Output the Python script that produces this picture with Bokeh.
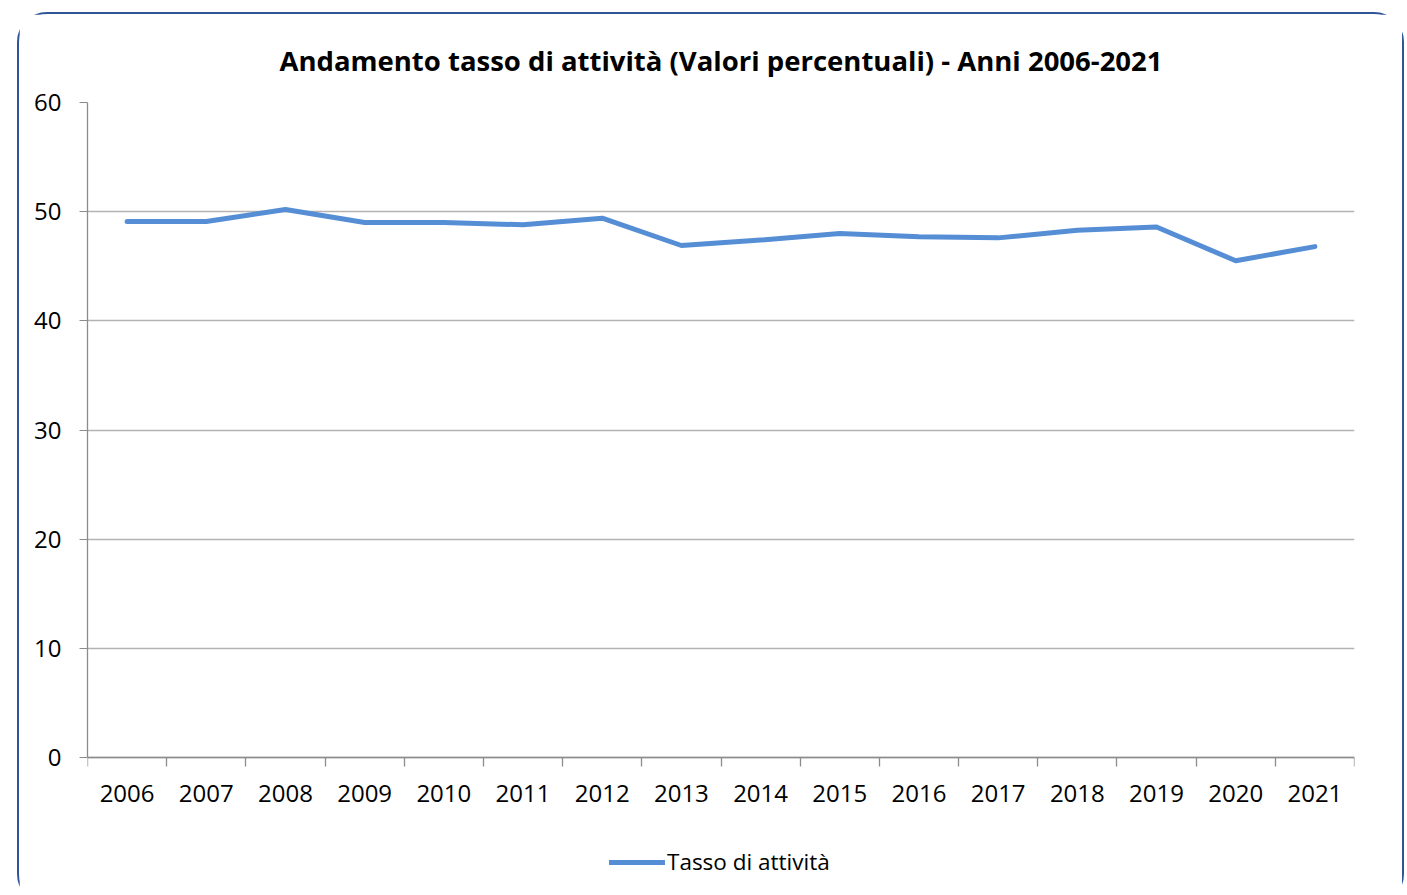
from bokeh.plotting import figure
from bokeh.models import FixedTicker, Range1d, Legend, LegendItem, GlobalInlineStyleSheet
from bokeh.embed import file_html
from bokeh.resources import INLINE

years = list(range(2006, 2022))
tasso = [49.1, 49.1, 50.2, 49.0, 49.0, 48.8, 49.4, 46.9, 47.4, 48.0, 47.7, 47.6, 48.3, 48.6, 45.5, 46.8]
y_ticks = [0, 10, 20, 30, 40, 50, 60]
title_text = "Andamento tasso di attività (Valori percentuali) - Anni 2006-2021"
series_name = "Tasso di attività"

FONT = "Open Sans"

# layout: the value area is 655px tall; the frame continues below it to hold the legend
PLOT_H = 655
FRAME_H = 790
y_lo = -(y_ticks[-1] - y_ticks[0]) * (FRAME_H - PLOT_H) / PLOT_H

p = figure(frame_width=1267, frame_height=FRAME_H, output_backend="svg", toolbar_location=None,
           x_range=Range1d(years[0] - 0.5, years[-1] + 0.5), y_range=Range1d(y_lo, y_ticks[-1]),
           min_border_left=68, min_border_right=48, min_border_top=88, min_border_bottom=10)
p.margin = (12, 0, 0, 17)
p.styles = {"border": "2.5px solid #2F5597", "border-radius": "30px"}
p.stylesheets = [GlobalInlineStyleSheet(css="html, body { overflow: hidden; }")]
p.outline_line_color = None
p.background_fill_color = "white"
p.border_fill_color = "white"

p.title.text = title_text
p.title.align = "center"
p.title.text_font = FONT
p.title.text_font_size = "27.5px"
p.title.text_font_style = "bold"
p.title.text_color = "black"
p.title.standoff = 48

p.xgrid.visible = False
p.ygrid.ticker = FixedTicker(ticks=y_ticks)
p.ygrid.grid_line_color = "#B3B3B3"
p.ygrid.grid_line_width = 1.3

p.yaxis.ticker = FixedTicker(ticks=y_ticks)
p.yaxis.bounds = (y_ticks[0], y_ticks[-1])
p.yaxis.axis_line_color = "#8C8C8C"
p.yaxis.axis_line_width = 1.3
p.yaxis.major_tick_line_color = "#8C8C8C"
p.yaxis.major_tick_out = 8
p.yaxis.major_tick_in = 0
p.yaxis.minor_tick_line_color = None
p.yaxis.major_label_standoff = 18
p.yaxis.major_label_text_font = FONT
p.yaxis.major_label_text_font_size = "24px"
p.yaxis.major_label_text_color = "black"

p.xaxis.fixed_location = y_ticks[0]
p.xaxis.ticker = FixedTicker(ticks=years, minor_ticks=[y - 0.5 for y in years] + [years[-1] + 0.5])
p.xaxis.major_label_overrides = {y: str(y) for y in years}
p.xaxis.axis_line_color = "#8C8C8C"
p.xaxis.axis_line_width = 1.3
p.xaxis.major_tick_line_color = None
p.xaxis.minor_tick_line_color = "#8C8C8C"
p.xaxis.minor_tick_line_width = 1.3
p.xaxis.minor_tick_out = 9
p.xaxis.minor_tick_in = 0
p.xaxis.major_label_standoff = 18
p.xaxis.major_label_text_font = FONT
p.xaxis.major_label_text_font_size = "24px"
p.xaxis.major_label_text_color = "black"

r = p.line(years, tasso, line_color="#558ED5", line_width=5, line_join="round", line_cap="round")

legend = Legend(items=[LegendItem(label=series_name, renderers=[r])], orientation="horizontal",
                location=(522, 15), glyph_width=56, glyph_height=20, label_text_font=FONT,
                label_text_font_size="22.5px", label_text_color="black", border_line_color=None,
                background_fill_alpha=0, margin=0, padding=0, label_standoff=2)
p.add_layout(legend, "center")

open("out.html", "w").write(file_html(p, INLINE))
